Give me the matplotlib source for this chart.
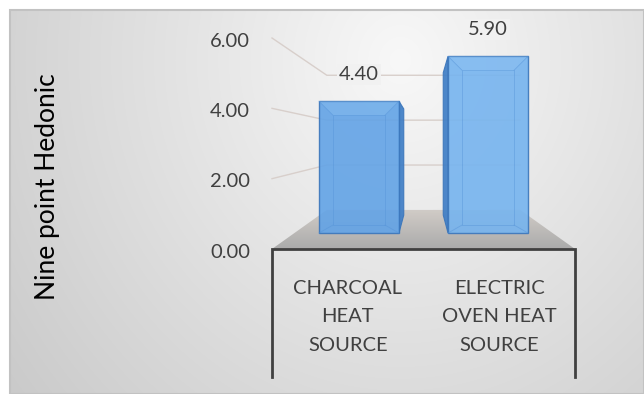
import numpy as np
import matplotlib
matplotlib.use("Agg")
import matplotlib.pyplot as plt
from matplotlib.patches import Polygon, Rectangle

# ---- data ----
categories = ["CHARCOAL\nHEAT\nSOURCE", "ELECTRIC\nOVEN HEAT\nSOURCE"]
scores = [4.40, 5.90]
value_labels = ["4.40", "5.90"]
y_ticks = [0, 2, 4, 6]
y_tick_labels = ["0.00", "2.00", "4.00", "6.00"]
y_title = "Nine point Hedonic"

FONT = "Lato"
W, H = 644, 394
fig = plt.figure(figsize=(W / 100, H / 100), dpi=100)
fig.patch.set_facecolor("white")
ax = fig.add_axes([0, 0, 1, 1])
ax.set_xlim(0, W)
ax.set_ylim(H, 0)
ax.axis("off")

# ---- perspective projection of the 3-D plot box (pixel space) ----
n = len(categories)
FRONT_LEFT, FRONT_RIGHT = 272.0, 575.0
FLOOR_Y = 249.0
VMAX = max(y_ticks)
UNIT = (FLOOR_Y - 38.0) / VMAX
VX, VY = 423.5, 141.0
K = 0.567


def proj(c, v, d):
    """category units, value units, depth 0 (front) .. 1 (back) -> pixels"""
    xf = FRONT_LEFT + c * (FRONT_RIGHT - FRONT_LEFT) / n
    yf = FLOOR_Y - v * UNIT
    s = 1.0 / (1.0 + K * d)
    return VX + (xf - VX) * s, VY + (yf - VY) * s


# ---- chart-area background: soft radial gradient ----
x0, y0 = 10, 10
gx, gy = np.meshgrid(np.arange(x0, W), np.arange(y0, H))
r = np.sqrt(((gx - 400) / 300.0) ** 2 + ((gy - 60) / 330.0) ** 2)
g = np.clip(248 - 28 * r, 195, 250) / 255.0
bg = np.dstack([g, g, g])
ax.imshow(bg, extent=(x0, W, H, y0), zorder=0, interpolation="bilinear")
ax.add_patch(Rectangle((x0, y0), W - x0, H - y0, fill=False,
                       edgecolor="#c2c2c2", lw=1.5, zorder=1))

# ---- floor ----
floor_pts = [proj(0, 0, 0), proj(n, 0, 0), proj(n, 0, 1), proj(0, 0, 1)]
floor = Polygon(floor_pts, closed=True, facecolor="none", edgecolor="none")
ax.add_patch(floor)
fy_back = floor_pts[2][1]
fg = np.linspace(0, 1, 64)[:, None]
c_back = np.array([0.82, 0.80, 0.78])
c_front = np.array([0.67, 0.67, 0.67])
floor_img = (c_back[None, None, :] * (1 - fg[..., None]) +
             c_front[None, None, :] * fg[..., None]) * np.ones((1, 8, 1))
im = ax.imshow(floor_img, extent=(FRONT_LEFT, FRONT_RIGHT, FLOOR_Y, fy_back),
               zorder=2, interpolation="bilinear", aspect="auto")
im.set_clip_path(floor)

# ---- gridlines on side and back walls ----
for v in y_ticks[1:]:
    p0, p1, p2 = proj(0, v, 0), proj(0, v, 1), proj(n, v, 1)
    ax.plot([p0[0], p1[0], p2[0]], [p0[1], p1[1], p2[1]],
            color="#d8cfcb", lw=1.0, zorder=3, solid_joinstyle="round")

# ---- value-axis tick labels ----
for v, lab in zip(y_ticks, y_tick_labels):
    px, py = proj(0, v, 0)
    ax.text(px - 22, py + 3, lab, ha="right", va="center",
            fontsize=14.5, color="#404040", family=FONT, zorder=5)

ax.text(48, 187, y_title, rotation=90, ha="center", va="center",
        fontsize=19, color="black", family=FONT, zorder=5)

# ---- bars ----
HALF_W = 0.31
D1, D2 = 0.306, 0.807
face_colors = ["#62a3e6", "#76b4ef"]
side_color = "#3f7ec6"
edge_color = "#3b76bb"
BEVEL = 14

for i, (val, lab) in enumerate(zip(scores, value_labels)):
    cl, cr = i + 0.5 - HALF_W, i + 0.5 + HALF_W
    bl, br = proj(cl, 0, D1), proj(cr, 0, D1)
    tl, tr = proj(cl, val, D1), proj(cr, val, D1)
    # visible side face (toward the vanishing point)
    if tr[0] < VX:
        side = [br, tr, proj(cr, val, D2), proj(cr, 0, D2)]
    else:
        side = [bl, tl, proj(cl, val, D2), proj(cl, 0, D2)]
    ax.add_patch(Polygon(side, closed=True, facecolor=side_color,
                         edgecolor=edge_color, lw=0.8, alpha=0.92, zorder=6))
    front = [bl, br, tr, tl]
    ax.add_patch(Polygon(front, closed=True, facecolor=face_colors[i],
                         edgecolor=edge_color, lw=1.0, alpha=0.9, zorder=7))
    # bevel: inner frame with corner diagonals
    il, ir = tl[0] + BEVEL, tr[0] - BEVEL
    it, ib = tl[1] + BEVEL, bl[1] - 8
    ax.add_patch(Polygon([(il, it), (ir, it), (ir, ib), (il, ib)], closed=True,
                         facecolor="none", edgecolor="#5593d8", lw=0.6,
                         alpha=0.5, zorder=8))
    ax.add_patch(Polygon([tl, tr, (ir, it), (il, it)], closed=True,
                         facecolor="#94c6f3", edgecolor="none", alpha=0.3,
                         zorder=8))
    for (ox, oy), (ix, iy) in [(tl, (il, it)), (tr, (ir, it)),
                               (bl, (il, ib)), (br, (ir, ib))]:
        ax.plot([ox, ix], [oy, iy], color="#5593d8", lw=0.6, alpha=0.5,
                zorder=8)
    # value label above the bar
    cx, cy = proj(i + 0.5, val, D1)
    ax.annotate(lab, (cx, cy), xytext=(0, 19), textcoords="offset points",
                ha="center", va="center", fontsize=14.5, color="#404040",
                family=FONT, zorder=9,
                bbox=dict(boxstyle="square,pad=0.1", facecolor="#f1f1f1",
                          edgecolor="none"))

# ---- category axis box and labels ----
BOX_BOTTOM = 377
fl, fr = proj(0, 0, 0), proj(n, 0, 0)
ax.plot([fl[0], fl[0], fr[0], fr[0]], [BOX_BOTTOM, fl[1], fr[1], BOX_BOTTOM],
        color="#404040", lw=2.0, zorder=9, solid_joinstyle="miter")
for i, cat in enumerate(categories):
    cx, cy = proj(i + 0.5, 0, 0)
    ax.text(cx, cy + 68, cat, ha="center", va="center", multialignment="center",
            fontsize=14.5, color="#404040", family=FONT, linespacing=1.85,
            zorder=9)

fig.savefig("out.png", dpi=100, facecolor=fig.get_facecolor())
